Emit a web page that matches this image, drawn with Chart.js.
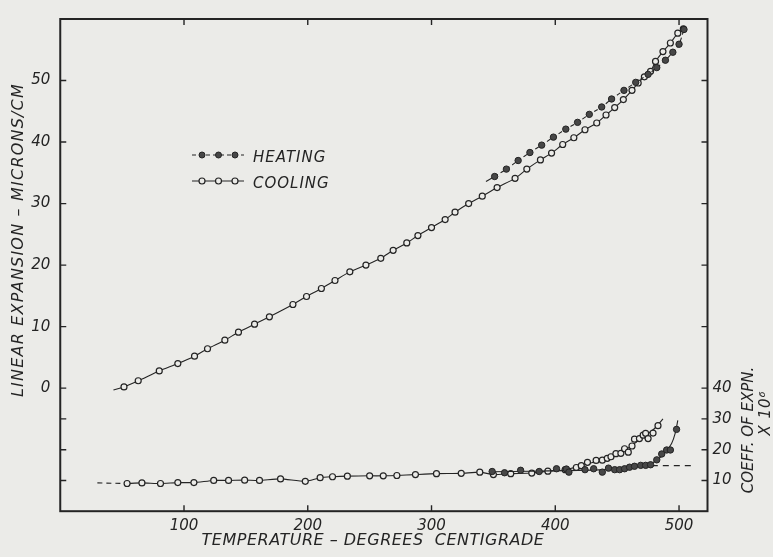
<!DOCTYPE html>
<html>
<head>
<meta charset="utf-8">
<script src="https://cdn.jsdelivr.net/npm/chart.js@4.4.1/dist/chart.umd.min.js"></script>
<style>
  html, body { margin: 0; padding: 0; background: #ebebe8; }
  canvas { display: block; }
</style>
</head>
<body>
<canvas id="chart" width="773" height="557"></canvas>
<script>
// ---- Linear expansion (microns per cm) against temperature (deg C) ----
const coolTemp = [51.5, 63, 80, 95, 108.5, 119, 133, 144, 157, 169, 188,
  199, 211, 222, 234, 247, 259, 269, 280, 289, 300, 311, 319, 330, 341, 353,
  367.5, 377, 388, 397, 406, 415, 424, 433.5, 441, 448, 455, 462, 467, 472, 477, 481, 487, 493, 499, 503.5];
const coolExp = [0.2, 1.2, 2.8, 4.0, 5.2, 6.4, 7.8, 9.1, 10.4, 11.6, 13.6,
  14.9, 16.2, 17.5, 18.9, 20.0, 21.1, 22.4, 23.6, 24.8, 26.1, 27.4, 28.6, 30.0, 31.2, 32.6,
  34.1, 35.6, 37.1, 38.2, 39.6, 40.7, 42.0, 43.1, 44.4, 45.6, 46.9, 48.4, 49.6, 50.6, 51.5, 53.1, 54.7, 56.1, 57.7, 58.4];

const heatTemp = [351, 360.5, 370, 379.5, 389, 398.5, 408.5, 418, 427.5, 437.5, 445.5, 455.5,
  465, 475, 482, 489, 495, 500, 504];
const heatExp = [34.4, 35.6, 37.0, 38.3, 39.5, 40.8, 42.1, 43.2, 44.5, 45.7, 47.0, 48.4,
  49.7, 51.0, 52.1, 53.3, 54.6, 55.9, 58.3];

// short lead-in strokes of the expansion curves
const coolExpLeadTemp = [43, 51.5];
const coolExpLead = [-0.3, 0.2];
const heatExpLeadTemp = [344, 351];
const heatExpLead = [33.6, 34.4];

// ---- Coefficient of expansion (x 10^6) against temperature ----
const coolCoefTemp = [54, 66, 81, 95, 108, 124, 136, 149, 161, 178, 198, 210, 220, 232, 250,
  261, 272, 287, 304, 324, 339, 350, 364, 381, 394, 408, 417, 421, 426, 433, 438, 442, 445,
  449, 453, 456, 459, 462, 464, 468, 471, 473, 475, 479, 483];
const coolCoef = [9.0, 9.2, 9.0, 9.3, 9.3, 10.0, 10.0, 10.1, 10.0, 10.5, 9.7, 10.9, 11.2, 11.4, 11.5,
  11.5, 11.6, 11.9, 12.2, 12.3, 12.7, 11.9, 12.2, 12.4, 13.0, 13.5, 14.2, 14.8, 15.9, 16.5, 16.6, 17.2, 17.7,
  18.7, 18.8, 20.3, 19.2, 21.2, 23.4, 23.6, 24.7, 25.3, 23.6, 25.4, 27.8];
const coolCoefCurveTemp = [408, 418, 428, 438, 448, 456, 464, 472, 480, 487];
const coolCoefCurve = [13.5, 14.4, 15.6, 16.8, 18.3, 19.8, 22.0, 24.4, 26.8, 30.0];
const coolCoefLeadTemp = [30, 54];
const coolCoefLead = [9.2, 9.0];

const heatCoefTemp = [349, 359, 372, 387, 401, 409, 411, 424, 431, 438, 443, 448, 452, 456, 460,
  464, 469, 473, 477, 482, 486, 490, 493, 498];
const heatCoef = [12.9, 12.5, 13.3, 12.9, 13.8, 13.7, 12.7, 13.5, 13.8, 12.7, 14.0, 13.5, 13.5, 13.8, 14.3,
  14.6, 14.9, 14.9, 15.1, 16.7, 18.6, 19.9, 19.9, 26.6];
const heatCoefCurveTemp = [349, 380, 410, 440, 460, 472, 478, 484, 489, 494, 497, 499];
const heatCoefCurve = [12.8, 13.0, 13.2, 13.5, 14.2, 14.9, 15.6, 17.2, 19.2, 22.0, 25.5, 29.5];
const heatCoefBaseTemp = [478, 510];
const heatCoefBase = [14.8, 14.8];

// ---- Axes ----
const tempTicks = [100, 200, 300, 400, 500];
const expansionTicks = [0, 10, 20, 30, 40, 50];
const expansionMinorTicks = [-15, -10, -5];
const coefTicks = [10, 20, 30, 40];
const coefMinorTicks = [60, 80, 100, 120, 140];

const INK = '#242424';
const PAPER = '#ebebe8';
const DOT = '#474747';
const FONT = '"DejaVu Sans", "Liberation Sans", sans-serif';

const pts = (xs, ys) => xs.map((x, i) => ({ x, y: ys[i] }));

const openMarker = { pointStyle: 'circle', pointRadius: 3, pointBorderWidth: 1.2,
  pointBorderColor: INK, pointBackgroundColor: PAPER, pointHoverRadius: 3 };
const filledMarker = { pointStyle: 'circle', pointRadius: 3.2, pointBorderWidth: 1,
  pointBorderColor: INK, pointBackgroundColor: DOT, pointHoverRadius: 3.2 };
const bare = { pointRadius: 0, pointHoverRadius: 0 };

const datasets = [
  { label: 'HEATING', data: pts(heatTemp, heatExp), yAxisID: 'y', borderColor: INK,
    borderWidth: 1.1, borderDash: [4, 3], tension: 0.25, ...filledMarker },
  { data: pts(heatExpLeadTemp, heatExpLead), yAxisID: 'y', borderColor: INK,
    borderWidth: 1.1, ...bare },
  { label: 'HEATING', data: pts(heatCoefTemp, heatCoef), yAxisID: 'y2', showLine: false, ...filledMarker },
  { data: pts(heatCoefCurveTemp, heatCoefCurve), yAxisID: 'y2', borderColor: INK,
    borderWidth: 1.1, tension: 0.35, ...bare },
  { data: pts(heatCoefBaseTemp, heatCoefBase), yAxisID: 'y2', borderColor: INK,
    borderWidth: 1.1, borderDash: [6, 5], ...bare },
  { label: 'COOLING', data: pts(coolTemp, coolExp), yAxisID: 'y', borderColor: INK,
    borderWidth: 1.1, tension: 0.25, ...openMarker },
  { data: pts(coolExpLeadTemp, coolExpLead), yAxisID: 'y', borderColor: INK,
    borderWidth: 1.1, ...bare },
  { label: 'COOLING', data: pts(coolCoefTemp, coolCoef), yAxisID: 'y2', borderWidth: 1.1,
    borderColor: INK, tension: 0.2,
    segment: { borderColor: c => coolCoefTemp[c.p0DataIndex] >= 408 ? 'rgba(0,0,0,0)' : INK },
    ...openMarker },
  { data: pts(coolCoefCurveTemp, coolCoefCurve), yAxisID: 'y2', borderColor: INK,
    borderWidth: 1.1, tension: 0.35, ...bare },
  { data: pts(coolCoefLeadTemp, coolCoefLead), yAxisID: 'y2', borderColor: INK,
    borderWidth: 1.1, borderDash: [5, 4], ...bare }
];

const tickFont = { family: FONT, size: 15, style: 'italic' };

// paper, frame, inward tick marks, axis titles and the key
const paperAndInk = {
  id: 'paperAndInk',
  beforeDraw(chart) {
    const ctx = chart.ctx;
    ctx.save();
    ctx.fillStyle = PAPER;
    ctx.fillRect(0, 0, chart.width, chart.height);
    ctx.restore();
  },
  afterDraw(chart) {
    const ctx = chart.ctx;
    const a = chart.chartArea;
    const sx = chart.scales.x, sy = chart.scales.y, sy2 = chart.scales.y2;
    ctx.save();
    ctx.strokeStyle = INK;
    ctx.lineWidth = 2;
    ctx.strokeRect(a.left, a.top, a.right - a.left, a.bottom - a.top);

    ctx.lineWidth = 1.4;
    ctx.beginPath();
    tempTicks.forEach(v => {
      const p = sx.getPixelForValue(v);
      ctx.moveTo(p, a.bottom); ctx.lineTo(p, a.bottom - 6);
      ctx.moveTo(p, a.top); ctx.lineTo(p, a.top + 6);
    });
    expansionMinorTicks.concat(expansionTicks).forEach(v => {
      const p = sy.getPixelForValue(v);
      ctx.moveTo(a.left, p); ctx.lineTo(a.left + 6, p);
    });
    coefTicks.concat(coefMinorTicks).forEach(v => {
      const p = sy2.getPixelForValue(v);
      ctx.moveTo(a.right, p); ctx.lineTo(a.right - 6, p);
    });
    ctx.stroke();

    const text = (str, x, y, o) => {
      ctx.save();
      ctx.translate(x, y);
      if (o.rot) ctx.rotate(o.rot);
      ctx.font = o.font;
      ctx.letterSpacing = o.spacing || '0px';
      ctx.textAlign = o.align || 'center';
      ctx.textBaseline = 'alphabetic';
      ctx.fillStyle = INK;
      ctx.fillText(str, 0, 0);
      ctx.restore();
    };
    const up = -Math.PI / 2;
    text('TEMPERATURE \u2013 DEGREES  CENTIGRADE', 373, 545,
      { font: `italic 16px ${FONT}`, spacing: '0.5px' });
    text('LINEAR EXPANSION \u2013 MICRONS/CM', 23, 240,
      { font: `italic 16px ${FONT}`, rot: up, spacing: '1.2px' });
    text('COEFF. OF EXPN.', 753, 430, { font: `italic 15px ${FONT}`, rot: up });
    text('X 10\u2076', 770, 413, { font: `italic 15px ${FONT}`, rot: up, spacing: '1px' });

    // key
    const keyMarks = [202, 218.5, 235];
    const key = [
      { y: 155, name: 'HEATING', dash: [4, 3], fill: DOT, lw: 1 },
      { y: 181, name: 'COOLING', dash: [], fill: PAPER, lw: 1.2 }
    ];
    key.forEach(k => {
      ctx.save();
      ctx.strokeStyle = INK;
      ctx.lineWidth = 1.1;
      ctx.setLineDash(k.dash);
      ctx.beginPath();
      ctx.moveTo(192, k.y); ctx.lineTo(244, k.y);
      ctx.stroke();
      ctx.setLineDash([]);
      keyMarks.forEach(mx => {
        ctx.beginPath();
        ctx.arc(mx, k.y, 3, 0, Math.PI * 2);
        ctx.fillStyle = k.fill;
        ctx.fill();
        ctx.lineWidth = k.lw;
        ctx.stroke();
      });
      ctx.restore();
      text(k.name, 253, k.y + 6.5, { font: `italic 15px ${FONT}`, align: 'left', spacing: '1px' });
    });
    ctx.restore();
  }
};

new Chart(document.getElementById('chart'), {
  type: 'line',
  data: { datasets },
  options: {
    responsive: false,
    animation: false,
    devicePixelRatio: 1,
    layout: { padding: 0 },
    plugins: { legend: { display: false }, tooltip: { enabled: false } },
    events: [],
    scales: {
      x: {
        type: 'linear', position: 'bottom', min: 0, max: 523,
        afterFit: s => { s.height = 45.8; },
        afterBuildTicks: s => { s.ticks = tempTicks.map(v => ({ value: v })); },
        grid: { display: false, drawTicks: false },
        border: { display: false },
        ticks: { font: tickFont, color: INK, padding: 6, maxRotation: 0 }
      },
      y: {
        type: 'linear', position: 'left', min: -20, max: 60,
        afterFit: s => { s.width = 60.25; },
        afterBuildTicks: s => { s.ticks = expansionTicks.map(v => ({ value: v })); },
        grid: { display: false, drawTicks: false },
        border: { display: false },
        ticks: { font: tickFont, color: INK, padding: 10 }
      },
      y2: {
        type: 'linear', position: 'right', min: 0, max: 160,
        afterFit: s => { s.width = 65.5; },
        afterBuildTicks: s => { s.ticks = coefTicks.map(v => ({ value: v })); },
        grid: { display: false, drawTicks: false },
        border: { display: false },
        ticks: { font: tickFont, color: INK, padding: 5 }
      }
    }
  },
  plugins: [paperAndInk]
});
</script>
</body>
</html>
